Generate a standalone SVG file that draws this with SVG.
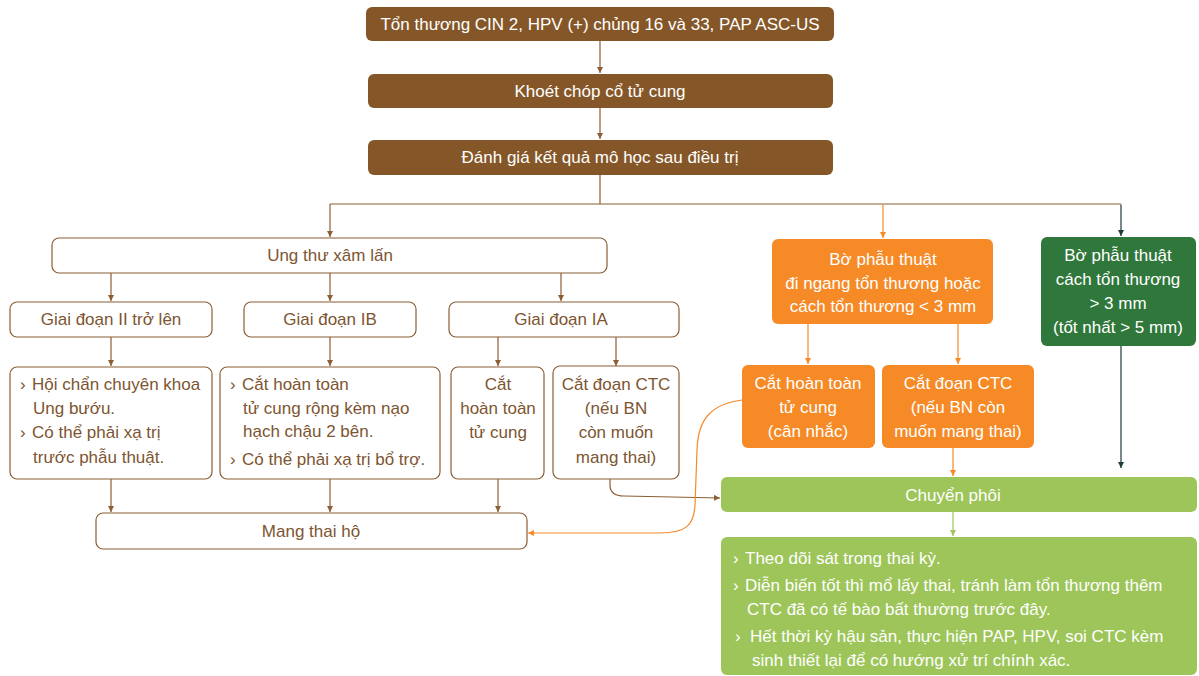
<svg xmlns="http://www.w3.org/2000/svg" width="1199" height="676" viewBox="0 0 1199 676">
<defs>
<style>
text{font-family:"Liberation Sans",Arial,sans-serif;font-size:17px;dominant-baseline:central}
.c{text-anchor:middle}
.w{fill:#ffffff}
.b{fill:#7d5531}
.brn{fill:#855728}
.wbox{fill:#ffffff;stroke:#8b5e34;stroke-width:1.2}
.org{fill:#f58a26}
.dg{fill:#2f773a}
.lg{fill:#9dc55a}
.ln{fill:none;stroke-width:1.2}
.lb{stroke:#8b5e34}
.lo{stroke:#f58a26}
.ld{stroke:#1f3a3d}
.lgr{stroke:#9dc55a}
</style>
<marker id="ab" markerWidth="7" markerHeight="7" refX="6" refY="3" orient="auto" markerUnits="userSpaceOnUse"><path d="M0,0 L6,3 L0,6 z" fill="#8b5e34"/></marker>
<marker id="ao" markerWidth="7" markerHeight="7" refX="6" refY="3" orient="auto" markerUnits="userSpaceOnUse"><path d="M0,0 L6,3 L0,6 z" fill="#f58a26"/></marker>
<marker id="ad" markerWidth="7" markerHeight="7" refX="6" refY="3" orient="auto" markerUnits="userSpaceOnUse"><path d="M0,0 L6,3 L0,6 z" fill="#1f3a3d"/></marker>
<marker id="ag" markerWidth="7" markerHeight="7" refX="6" refY="3" orient="auto" markerUnits="userSpaceOnUse"><path d="M0,0 L6,3 L0,6 z" fill="#9dc55a"/></marker>
</defs>
<rect width="1199" height="676" fill="#ffffff"/>
<g id="connectors">
<path class="ln lb" d="M600,41 V73" marker-end="url(#ab)"/>
<path class="ln lb" d="M600,108 V139" marker-end="url(#ab)"/>
<path class="ln lb" d="M600,175 V204 M330,204 H1121"/>
<path class="ln lb" d="M330,204 V237" marker-end="url(#ab)"/>
<path class="ln lo" d="M883,204.6 V238" marker-end="url(#ao)"/>
<path class="ln ld" d="M1121,204.6 V236" marker-end="url(#ad)"/>
<path class="ln lb" d="M111,273 V301" marker-end="url(#ab)"/>
<path class="ln lb" d="M330,273 V301" marker-end="url(#ab)"/>
<path class="ln lb" d="M561,273 V301" marker-end="url(#ab)"/>
<path class="ln lb" d="M111,337 V366" marker-end="url(#ab)"/>
<path class="ln lb" d="M330,337 V366" marker-end="url(#ab)"/>
<path class="ln lb" d="M498,337 V366" marker-end="url(#ab)"/>
<path class="ln lb" d="M616,337 V366" marker-end="url(#ab)"/>
<path class="ln lo" d="M808,324 V364" marker-end="url(#ao)"/>
<path class="ln lo" d="M958,324 V364" marker-end="url(#ao)"/>
<path class="ln lb" d="M111,479 V512" marker-end="url(#ab)"/>
<path class="ln lb" d="M330,479 V512" marker-end="url(#ab)"/>
<path class="ln lb" d="M498,479 V512" marker-end="url(#ab)"/>
<path class="ln lo" d="M953,447 V476" marker-end="url(#ao)"/>
<path class="ln ld" d="M1121,346 V468" marker-end="url(#ad)"/>
<path class="ln lgr" d="M953,512 V536" marker-end="url(#ag)"/>
<path class="ln lb" d="M610,479 V485 Q610,496 624,496 L720,498" marker-end="url(#ab)"/>
<path class="ln lo" d="M742,400 C712,404 698,418 697,450 L695,505 C694,526 685,533 660,533 L528,533" marker-end="url(#ao)"/>
</g>
<g id="n1"><rect class="brn" x="366" y="7" width="468" height="34" rx="6"/><text class="w c" x="600" y="24">Tổn thương CIN 2, HPV (+) chủng 16 và 33, PAP ASC-US</text></g>
<g id="n2"><rect class="brn" x="368" y="74" width="465" height="34" rx="6"/><text class="w c" x="600" y="91">Khoét chóp cổ tử cung</text></g>
<g id="n3"><rect class="brn" x="368" y="140" width="465" height="35" rx="6"/><text class="w c" x="600" y="157">Đánh giá kết quả mô học sau điều trị</text></g>
<g id="n4"><rect class="wbox" x="52" y="238" width="555" height="35" rx="7"/><text class="b c" x="330" y="255">Ung thư xâm lấn</text></g>
<g id="n5"><rect class="wbox" x="10" y="302" width="202" height="35" rx="7"/><text class="b c" x="111" y="319">Giai đoạn II trở lên</text></g>
<g id="n6"><rect class="wbox" x="244" y="302" width="172" height="35" rx="7"/><text class="b c" x="330" y="319">Giai đoạn IB</text></g>
<g id="n7"><rect class="wbox" x="449" y="302" width="230" height="35" rx="7"/><text class="b c" x="561" y="319">Giai đoạn IA</text></g>
<g id="n8"><rect class="wbox" x="10" y="367" width="202" height="112" rx="7"/>
<text class="b" x="20" y="384">›</text><text class="b" x="32" y="384">Hội chẩn chuyên khoa</text>
<text class="b" x="33" y="408">Ung bướu.</text>
<text class="b" x="20" y="432">›</text><text class="b" x="32" y="432">Có thể phải xạ trị</text>
<text class="b" x="33" y="457">trước phẫu thuật.</text></g>
<g id="n9"><rect class="wbox" x="220" y="367" width="220" height="112" rx="7"/>
<text class="b" x="230" y="384">›</text><text class="b" x="242" y="384">Cắt hoàn toàn</text>
<text class="b" x="243" y="408">tử cung rộng kèm nạo</text>
<text class="b" x="243" y="431">hạch chậu 2 bên.</text>
<text class="b" x="230" y="459">›</text><text class="b" x="242" y="459">Có thể phải xạ trị bổ trợ.</text></g>
<g id="n10"><rect class="wbox" x="451" y="367" width="93" height="112" rx="7"/>
<text class="b c" x="498" y="384">Cắt</text><text class="b c" x="498" y="408">hoàn toàn</text><text class="b c" x="498" y="432">tử cung</text></g>
<g id="n11"><rect class="wbox" x="553" y="366" width="126" height="113" rx="7"/>
<text class="b c" x="616" y="384">Cắt đoạn CTC</text><text class="b c" x="616" y="408">(nếu BN</text><text class="b c" x="616" y="432">còn muốn</text><text class="b c" x="616" y="457">mang thai)</text></g>
<g id="n12"><rect class="wbox" x="96" y="513" width="431" height="36" rx="7"/><text class="b c" x="311" y="531">Mang thai hộ</text></g>
<g id="n13"><rect class="org" x="772" y="239" width="221" height="85" rx="6"/>
<text class="w c" x="883" y="259">Bờ phẫu thuật</text><text class="w c" x="883" y="283">đi ngang tổn thương hoặc</text><text class="w c" x="883" y="306">cách tổn thương &lt; 3 mm</text></g>
<g id="n14"><rect class="dg" x="1041" y="237" width="155" height="109" rx="6"/>
<text class="w c" x="1118" y="255">Bờ phẫu thuật</text><text class="w c" x="1118" y="279">cách tổn thương</text><text class="w c" x="1118" y="303">&gt; 3 mm</text><text class="w c" x="1118" y="327">(tốt nhất &gt; 5 mm)</text></g>
<g id="n15"><rect class="org" x="742" y="365" width="133" height="83" rx="6"/>
<text class="w c" x="808" y="383">Cắt hoàn toàn</text><text class="w c" x="808" y="407">tử cung</text><text class="w c" x="808" y="431">(cân nhắc)</text></g>
<g id="n16"><rect class="org" x="882" y="365" width="152" height="83" rx="6"/>
<text class="w c" x="958" y="383">Cắt đoạn CTC</text><text class="w c" x="958" y="407">(nếu BN còn</text><text class="w c" x="958" y="431">muốn mang thai)</text></g>
<g id="n17"><rect class="lg" x="721" y="477" width="476" height="35" rx="6"/><text class="w c" x="953" y="495">Chuyển phôi</text></g>
<g id="n18"><rect class="lg" x="721" y="537" width="476" height="138" rx="6"/>
<text class="w" x="733" y="558">›</text><text class="w" x="745" y="558">Theo dõi sát trong thai kỳ.</text>
<text class="w" x="733" y="585">›</text><text class="w" x="745" y="585">Diễn biến tốt thì mổ lấy thai, tránh làm tổn thương thêm</text>
<text class="w" x="747" y="609">CTC đã có tế bào bất thường trước đây.</text>
<text class="w" x="735" y="636">›</text><text class="w" x="750" y="636">Hết thời kỳ hậu sản, thực hiện PAP, HPV, soi CTC kèm</text>
<text class="w" x="752" y="660">sinh thiết lại để có hướng xử trí chính xác.</text></g>
</svg>
